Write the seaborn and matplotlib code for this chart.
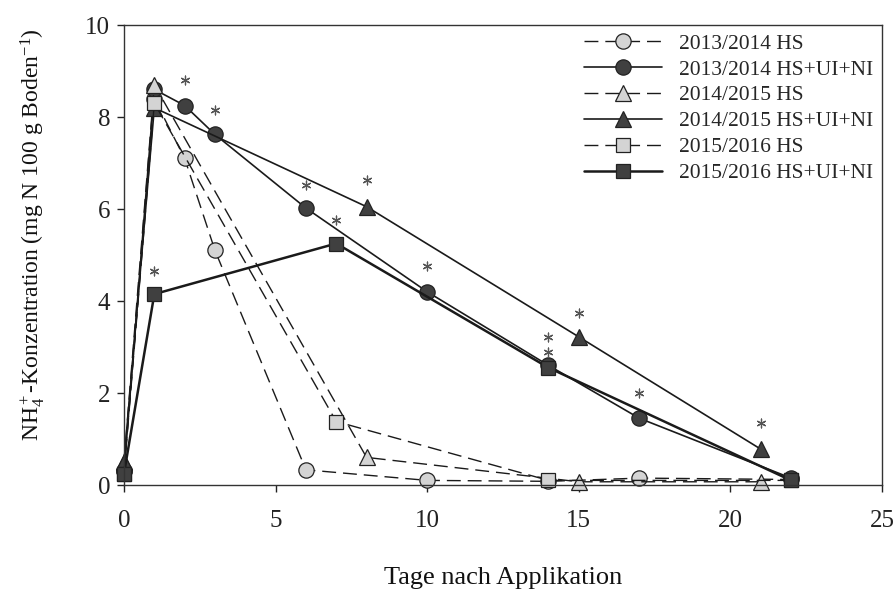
import numpy as np
import pandas as pd
import matplotlib
matplotlib.use("Agg")
import matplotlib.pyplot as plt
import seaborn as sns

# ---- data ----
days_13 = [0, 1, 2, 3, 6, 10, 14, 17, 22]
hs_13 = [0.30, 8.40, 7.10, 5.10, 0.33, 0.10, 0.08, 0.15, 0.12]
hsun_13 = [0.30, 8.60, 8.25, 7.62, 6.02, 4.20, 2.60, 1.45, 0.15]

days_14 = [0, 1, 8, 15, 21]
hs_14 = [0.50, 8.70, 0.60, 0.07, 0.07]
hsun_14 = [0.50, 8.20, 6.05, 3.22, 0.78]

days_15 = [0, 1, 7, 14, 22]
hs_15 = [0.25, 8.30, 1.38, 0.10, 0.10]
hsun_15 = [0.25, 4.15, 5.25, 2.55, 0.10]

labels = ["2013/2014 HS", "2013/2014 HS+UI+NI", "2014/2015 HS",
          "2014/2015 HS+UI+NI", "2015/2016 HS", "2015/2016 HS+UI+NI"]

star_x = [1, 2, 3, 6, 7, 8, 10, 14, 14, 15, 17, 21]
star_y = [4.65, 8.80, 8.15, 6.52, 5.76, 6.63, 4.76, 3.22, 2.89, 3.74, 2.00, 1.35]

x_ticks = [0, 5, 10, 15, 20, 25]
y_ticks = [0, 2, 4, 6, 8, 10]

# ---- style ----
sns.set_theme(style="ticks")
plt.rcParams['font.family'] = ['Liberation Serif', 'DejaVu Serif']
plt.rcParams['mathtext.fontset'] = 'custom'
plt.rcParams['mathtext.rm'] = 'Liberation Serif'
plt.rcParams['mathtext.it'] = 'Liberation Serif:italic'
plt.rcParams['mathtext.bf'] = 'Liberation Serif:bold'

fig = plt.figure(figsize=(8.96, 5.89), dpi=100)
ax = fig.add_axes([124/896, 104/589, (882-124)/896, (485-25)/589])

LIGHT = "#d4d4d4"
DARK = "#404040"
EDGE = "#222222"
dash = (0, (10, 5))

series = [
    (days_13, hs_13, 'o', LIGHT, dash, 1.0, 11),
    (days_13, hsun_13, 'o', DARK, '-', 1.2, 11),
    (days_14, hs_14, '^', LIGHT, dash, 1.0, 12),
    (days_14, hsun_14, '^', DARK, '-', 1.2, 12),
    (days_15, hs_15, 's', LIGHT, dash, 1.0, 10),
    (days_15, hsun_15, 's', DARK, '-', 1.8, 10),
]

for (xs, ys, mk, fc, ls, lw, ms), lab in zip(series, labels):
    df = pd.DataFrame({"x": xs, "y": ys})
    sns.lineplot(data=df, x="x", y="y", ax=ax, sort=False, label=lab,
                 color="#1a1a1a", linestyle=ls, linewidth=lw,
                 marker=mk, markersize=ms, markerfacecolor=fc,
                 markeredgecolor=EDGE, markeredgewidth=0.9, clip_on=False)

sdf = pd.DataFrame({"x": star_x, "y": star_y})
sns.scatterplot(data=sdf, x="x", y="y", ax=ax, marker=(6, 2, 0), s=40,
                color="#555555", linewidth=0.9, legend=False, zorder=5)

ax.set_xlim(0, 25)
ax.set_ylim(0, 10)
ax.set_xticks(x_ticks)
ax.set_yticks(y_ticks)
ax.tick_params(axis='both', direction='out', length=5, width=1,
               labelsize=18, colors="#222222")
ax.tick_params(axis='x', pad=13)
ax.tick_params(axis='y', pad=5)
for sp in ax.spines.values():
    sp.set_color("#333333")
    sp.set_linewidth(1.0)

ax.set_xlabel("Tage nach Applikation", fontsize=19, color="#111111")
ax.set_ylabel(r"NH$_4^+$-Konzentration (mg N 100 g Boden$^{-1}$)",
              fontsize=17, color="#111111")
ax.xaxis.set_label_coords(0.5, (485 - 578) / 460)
ax.xaxis.label.set_va('center')
ax.yaxis.set_label_coords((33 - 124) / 758, (485 - 235) / 460)
ax.yaxis.label.set_va('center')

leg = ax.legend(loc="upper right", frameon=False, fontsize=15.5,
                handlelength=3.6, handletextpad=0.8, labelspacing=0.27,
                borderaxespad=0.2, borderpad=0.2)

fig.savefig("out.png", dpi=100)
